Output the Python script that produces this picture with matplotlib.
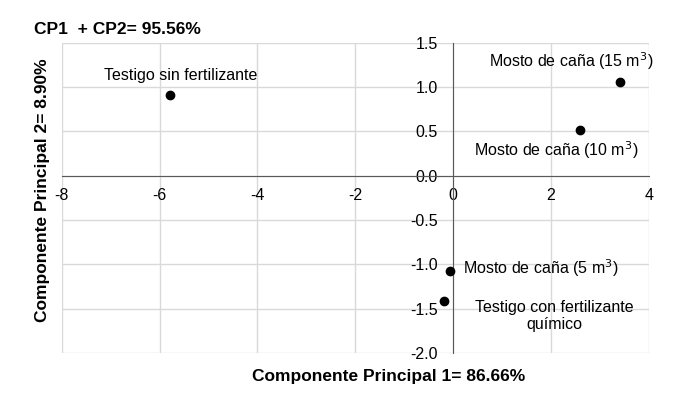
import numpy as np
import matplotlib.pyplot as plt

plt.rcParams['font.family'] = ['Liberation Sans', 'DejaVu Sans']

# PCA scores
names = ['Testigo sin fertilizante', 'Mosto de caña (15 m$^3$)', 'Mosto de caña (10 m$^3$)',
         'Mosto de caña (5 m$^3$)', 'Testigo con fertilizante\nquímico']
cp1 = [-5.79, 3.42, 2.60, -0.06, -0.18]
cp2 = [0.91, 1.06, 0.52, -1.07, -1.41]

xticks = [-8, -6, -4, -2, 0, 2, 4]
yticks = [-2.0, -1.5, -1.0, -0.5, 0.0, 0.5, 1.0, 1.5]

fig = plt.figure(figsize=(6.8, 3.93), dpi=100)
ax = fig.add_axes([0.091, 0.102, 0.863, 0.789])

ax.scatter(cp1, cp2, s=36, color='black', zorder=3)

ax.set_xlim(-8, 4)
ax.set_ylim(-2, 1.5)
ax.set_xticks(xticks)
ax.set_yticks(yticks)
ax.set_xticklabels([str(t) for t in xticks])
ax.set_yticklabels(['%.1f' % t for t in yticks])
ax.grid(True, color='#d9d9d9', linewidth=1)
ax.set_axisbelow(True)

for s in ['top', 'right']:
    ax.spines[s].set_visible(False)
ax.spines['left'].set_position(('data', 0))
ax.spines['bottom'].set_position(('data', 0))
ax.spines['left'].set_color('#595959')
ax.spines['bottom'].set_color('#595959')
ax.spines['left'].set_zorder(2)
ax.spines['bottom'].set_zorder(2)
ax.tick_params(axis='both', length=0, labelsize=11.5, colors='black')
ax.tick_params(axis='x', pad=9)
ax.tick_params(axis='y', pad=11)

# point labels
offsets = [(8, 14, 'center'), (24, 15, 'right'), (-17, -15, 'center'),
           (9, 2, 'left'), (79, -11, 'center')]
for n, x, y, (dx, dy, ha) in zip(names, cp1, cp2, offsets):
    ax.annotate(n, (x, y), xytext=(dx, dy), textcoords='offset points',
                ha=ha, va='center', fontsize=11.5, linespacing=1.1)

fig.text(0.05, 0.924, 'CP1  + CP2= 95.56%', fontsize=12.5, fontweight='bold',
         va='center')
fig.text(0.571, 0.041, 'Componente Principal 1= 86.66%', fontsize=12.5,
         fontweight='bold', ha='center', va='center')
fig.text(0.062, 0.517, 'Componente Principal 2= 8.90%', fontsize=12.5,
         fontweight='bold', ha='center', va='center', rotation=90)

plt.savefig('out.png')
